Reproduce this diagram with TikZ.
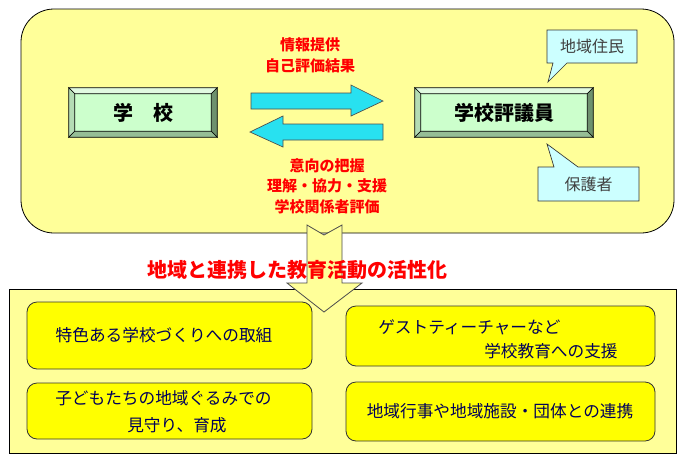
\documentclass[tikz,border=0pt]{standalone}
\usepackage{fontspec}
\setmainfont{Noto Sans CJK JP}
\usepackage{xcolor}
\usepackage{tikz}

\definecolor{paleyellow}{RGB}{255,255,153}
\definecolor{itemyellow}{RGB}{255,255,0}
\definecolor{arrowcyan}{RGB}{40,225,240}
\definecolor{calloutcyan}{RGB}{204,255,255}
\definecolor{faceGreen}{RGB}{204,255,204}
\definecolor{bevLight}{RGB}{225,250,225}
\definecolor{bevMid}{RGB}{180,220,180}
\definecolor{bevDark}{RGB}{110,145,110}
\definecolor{bevLow}{RGB}{150,190,150}
\definecolor{itemnavy}{RGB}{0,0,90}

\begin{document}
\begin{tikzpicture}[x=0.75pt,y=-0.75pt,
    panel/.style={draw=black,fill=paleyellow,line width=0.6pt},
    item/.style={draw=black!80,fill=itemyellow,rounded corners=7.5pt,line width=0.6pt},
    itemtext/.style={text=itemnavy,font=\fontsize{12.5}{20}\selectfont,inner sep=0pt},
    redtext/.style={text=red,font=\bfseries\fontsize{11.25}{15.5}\selectfont,align=center},
    blockarrow/.style={fill=arrowcyan,draw=black!70,line width=0.5pt},
    callout/.style={fill=calloutcyan,draw=black!80,line width=0.5pt},
    calltext/.style={text=black!75,font=\fontsize{12}{14}\selectfont},
    bevelbox/.style={fill=faceGreen,minimum height=36.75pt,inner sep=0pt,
      font=\bfseries\fontsize{15}{18}\selectfont},
    bevel/.style={draw=black,line width=0.5pt}]
        \useasboundingbox (0,0) rectangle (685,461);
        % Upper panel
        \draw[panel,rounded corners=24.75pt] (21,9) rectangle (674,233);
        % School and council
        \node[bevelbox,minimum width=111pt] (school) at (143,112.5) {学　校};
        \node[bevelbox,minimum width=133.5pt] (council) at (504,112.5) {学校評議員};
        \foreach \b in {school,council}{
            \filldraw[bevel,fill=bevLight] (\b.north west) -- (\b.north east) -- ([shift={(-6,6)}]\b.north east) -- ([shift={(6,6)}]\b.north west) -- cycle;
            \filldraw[bevel,fill=bevMid] (\b.north west) -- ([shift={(6,6)}]\b.north west) -- ([shift={(6,-6)}]\b.south west) -- (\b.south west) -- cycle;
            \filldraw[bevel,fill=bevDark] (\b.north east) -- ([shift={(-6,6)}]\b.north east) -- ([shift={(-6,-6)}]\b.south east) -- (\b.south east) -- cycle;
            \filldraw[bevel,fill=bevLow] (\b.south west) -- ([shift={(6,-6)}]\b.south west) -- ([shift={(-6,-6)}]\b.south east) -- (\b.south east) -- cycle;
        }
        % Arrows between them
        \draw[blockarrow] (251,93) -- (351,93) -- (351,85) -- (383,101) -- (351,116) -- (351,109) -- (251,109) -- cycle;
        \draw[blockarrow] (383,124) -- (283,124) -- (283,116) -- (250,132) -- (283,147) -- (283,140) -- (383,140) -- cycle;
        \node[redtext] (offer) at (310,55.5) {情報提供\\自己評価結果};
        \node[redtext] (support) at (327,186) {意向の把握\\理解・協力・支援\\学校関係者評価};
        % Callouts
        \draw[callout] (547,30) -- (637,30) -- (637,63) -- (567,63) -- (548,82) -- (553,63) -- (547,63) -- cycle;
        \node[calltext] (residents) at (592,46.5) {地域住民};
        \draw[callout] (538,167) -- (554,167) -- (547,144) -- (578,167) -- (639,167) -- (639,201) -- (538,201) -- cycle;
        \node[calltext] (guardians) at (588.5,184) {保護者};
        % Lower panel
        \draw[panel] (9,289) rectangle (676,453);
        \draw[item] (27,302) rectangle (312,369);
        \draw[item] (27,383) rectangle (312,439);
        \draw[item] (346,306) rectangle (655,366);
        \draw[item] (346,382) rectangle (655,441);
        \node[itemtext] (unique) at (164,335) {特色ある学校づくりへの取組};
        \node[itemtext,anchor=west,align=left] (children) at (55,411.5) {子どもたちの地域ぐるみでの\\\hspace*{54pt}見守り、育成};
        \node[itemtext,anchor=west,align=left,font=\fontsize{12.5}{18}\selectfont] (guest) at (378,339) {ゲストティーチャーなど\\\hspace*{79.5pt}学校教育への支援};
        \node[itemtext] (events) at (500,411) {地域行事や地域施設・団体との連携};
        % Down arrow and title
        \draw[panel,draw=black!70] (307,225) -- (324,235) -- (342,225) -- (342,283) -- (362,283) -- (324,312) -- (287,283) -- (307,283) -- cycle;
        \node[text=red,font=\bfseries\fontsize{15}{18}\selectfont] (goal) at (297,270) {地域と連携した教育活動の活性化};
    \end{tikzpicture}
\end{document}
